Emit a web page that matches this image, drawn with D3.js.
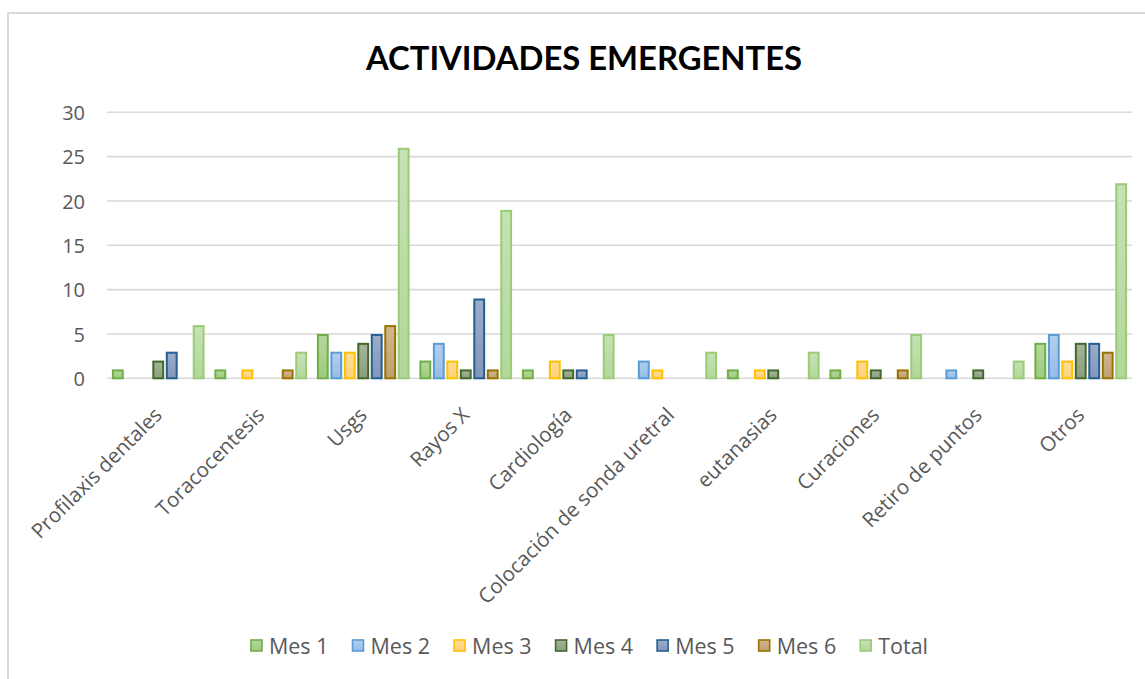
<!DOCTYPE html>
<html>
<head>
<meta charset="utf-8">
<script src="https://cdn.jsdelivr.net/npm/d3@7"></script>
<style>
  html, body { margin: 0; padding: 0; background: #ffffff; }
  svg { display: block; }
</style>
</head>
<body>
<svg id="chart" width="1145" height="679"></svg>
<script>
// ---- Data ----
const categories = ["Profilaxis dentales", "Toracocentesis", "Usgs", "Rayos X", "Cardiología",
  "Colocación de sonda uretral", "eutanasias", "Curaciones", "Retiro de puntos", "Otros"];
const seriesNames = ["Mes 1", "Mes 2", "Mes 3", "Mes 4", "Mes 5", "Mes 6", "Total"];
const mes1  = [1, 1, 5, 2, 1, 0, 1, 1, 0, 4];
const mes2  = [0, 0, 3, 4, 0, 2, 0, 0, 1, 5];
const mes3  = [0, 1, 3, 2, 2, 1, 1, 2, 0, 2];
const mes4  = [2, 0, 4, 1, 1, 0, 1, 1, 1, 4];
const mes5  = [3, 0, 5, 9, 1, 0, 0, 0, 0, 4];
const mes6  = [0, 1, 6, 1, 0, 0, 0, 1, 0, 3];
const total = [6, 3, 26, 19, 5, 3, 3, 5, 2, 22];
const yTicks = [0, 5, 10, 15, 20, 25, 30];
const titleText = "ACTIVIDADES EMERGENTES";

// ---- Styles ----
const seriesValues = [mes1, mes2, mes3, mes4, mes5, mes6, total];
const strokes = ["#70ad47", "#5b9bd5", "#ffc000", "#43682b", "#255e91", "#997300", "#9acb78"];
const fillTop = ["#b4d89c", "#b1cfee", "#ffdd96", "#a5b59a", "#9cadc8", "#d1b68d", "#c6e2b4"];
const fillBot = ["#9ecb80", "#96bce6", "#ffd27c", "#8a9e7c", "#8396bb", "#c0a070", "#b2d79a"];
const textColor = "#595959";
const gridColor = "#d9d9d9";

const svg = d3.select("#chart");
const W = 1145, H = 679;
const plot = { left: 107, right: 1132, top: 112.3, bottom: 378.3 };

// gradients
const defs = svg.append("defs");
seriesNames.forEach((s, i) => {
  const g = defs.append("linearGradient").attr("id", "grad" + i)
    .attr("x1", 0).attr("y1", 0).attr("x2", 0).attr("y2", 1);
  g.append("stop").attr("offset", "0%").attr("stop-color", fillTop[i]);
  g.append("stop").attr("offset", "100%").attr("stop-color", fillBot[i]);
});

// chart border
svg.append("rect").attr("x", 8).attr("y", 13).attr("width", W + 20).attr("height", H + 20)
  .attr("fill", "#ffffff").attr("stroke", gridColor).attr("stroke-width", 2);

// scales
const x0 = d3.scaleBand().domain(categories).range([plot.left, plot.right])
  .paddingInner(0.0956).paddingOuter(0.0478);
const x1 = d3.scaleBand().domain(seriesNames).range([0, x0.bandwidth()])
  .paddingInner(0.12).paddingOuter(0);
const y = d3.scaleLinear().domain([0, 30]).range([plot.bottom, plot.top]);

// gridlines
svg.append("g").selectAll("line").data(yTicks).join("line")
  .attr("x1", plot.left).attr("x2", plot.right)
  .attr("y1", d => y(d)).attr("y2", d => y(d))
  .attr("stroke", gridColor).attr("stroke-width", 1.6);

// y axis labels
const yAxis = d3.axisLeft(y).tickValues(yTicks).tickSize(0).tickPadding(0);
const yg = svg.append("g").attr("transform", `translate(85,0)`).call(yAxis);
yg.select(".domain").remove();
yg.selectAll("text").attr("fill", textColor)
  .style("font-family", "'Open Sans', sans-serif").style("font-size", "20px")
  .attr("dy", "0.36em");

// bars
const barData = [];
categories.forEach((c, ci) => {
  seriesNames.forEach((s, si) => {
    const v = seriesValues[si][ci];
    if (v > 0) barData.push({ c, s, si, v });
  });
});
const sw = 2;
svg.append("g").selectAll("rect").data(barData).join("rect")
  .attr("x", d => x0(d.c) + x1(d.s) + sw / 2)
  .attr("width", x1.bandwidth() - sw)
  .attr("y", d => y(d.v) + sw / 2)
  .attr("height", d => y(0) - y(d.v) - sw / 2)
  .attr("fill", d => `url(#grad${d.si})`)
  .attr("stroke", d => strokes[d.si])
  .attr("stroke-width", sw);

// x axis category labels
const xAxis = d3.axisBottom(x0).tickSize(0).tickPadding(0);
const xg = svg.append("g").attr("transform", `translate(0,${plot.bottom})`).call(xAxis);
xg.select(".domain").remove();
xg.selectAll(".tick text")
  .attr("fill", textColor)
  .style("font-family", "'Open Sans', sans-serif").style("font-size", "20.5px")
  .attr("text-anchor", "end")
  .attr("x", 0).attr("y", 0).attr("dy", 0)
  .attr("transform", "translate(5,38) rotate(-45)");

// title
const title = svg.append("text")
  .attr("x", 584).attr("y", 70)
  .attr("text-anchor", "middle")
  .attr("fill", "#000000")
  .style("font-family", "Lato, sans-serif").style("font-weight", "bold")
  .style("font-size", "32px")
  .text(titleText);
const tw = title.node().getComputedTextLength();
if (Math.abs(tw - 436) > 4) title.attr("textLength", 436).attr("lengthAdjust", "spacingAndGlyphs");

// legend
const legend = svg.append("g");
const legFont = 21.5;
const legGap = 23;
const items = legend.selectAll("g").data(seriesNames).join("g");
items.append("rect")
  .attr("x", 1).attr("y", -6).attr("width", 11).attr("height", 11)
  .attr("fill", (d, i) => `url(#grad${i})`)
  .attr("stroke", (d, i) => strokes[i]).attr("stroke-width", 1.6);
items.append("text").attr("x", 19).attr("y", 0).attr("dy", "0.35em")
  .attr("fill", textColor)
  .style("font-family", "'Open Sans', sans-serif").style("font-size", legFont + "px")
  .text(d => d);
let cx = 0;
const pos = [];
items.each(function() {
  const tl = d3.select(this).select("text").node().getComputedTextLength();
  pos.push(cx);
  cx += 19 + tl + legGap;
});
const legW = cx - legGap;
const legStart = 589 - legW / 2;
items.attr("transform", (d, i) => `translate(${legStart + pos[i]},646)`);
</script>
</body>
</html>
